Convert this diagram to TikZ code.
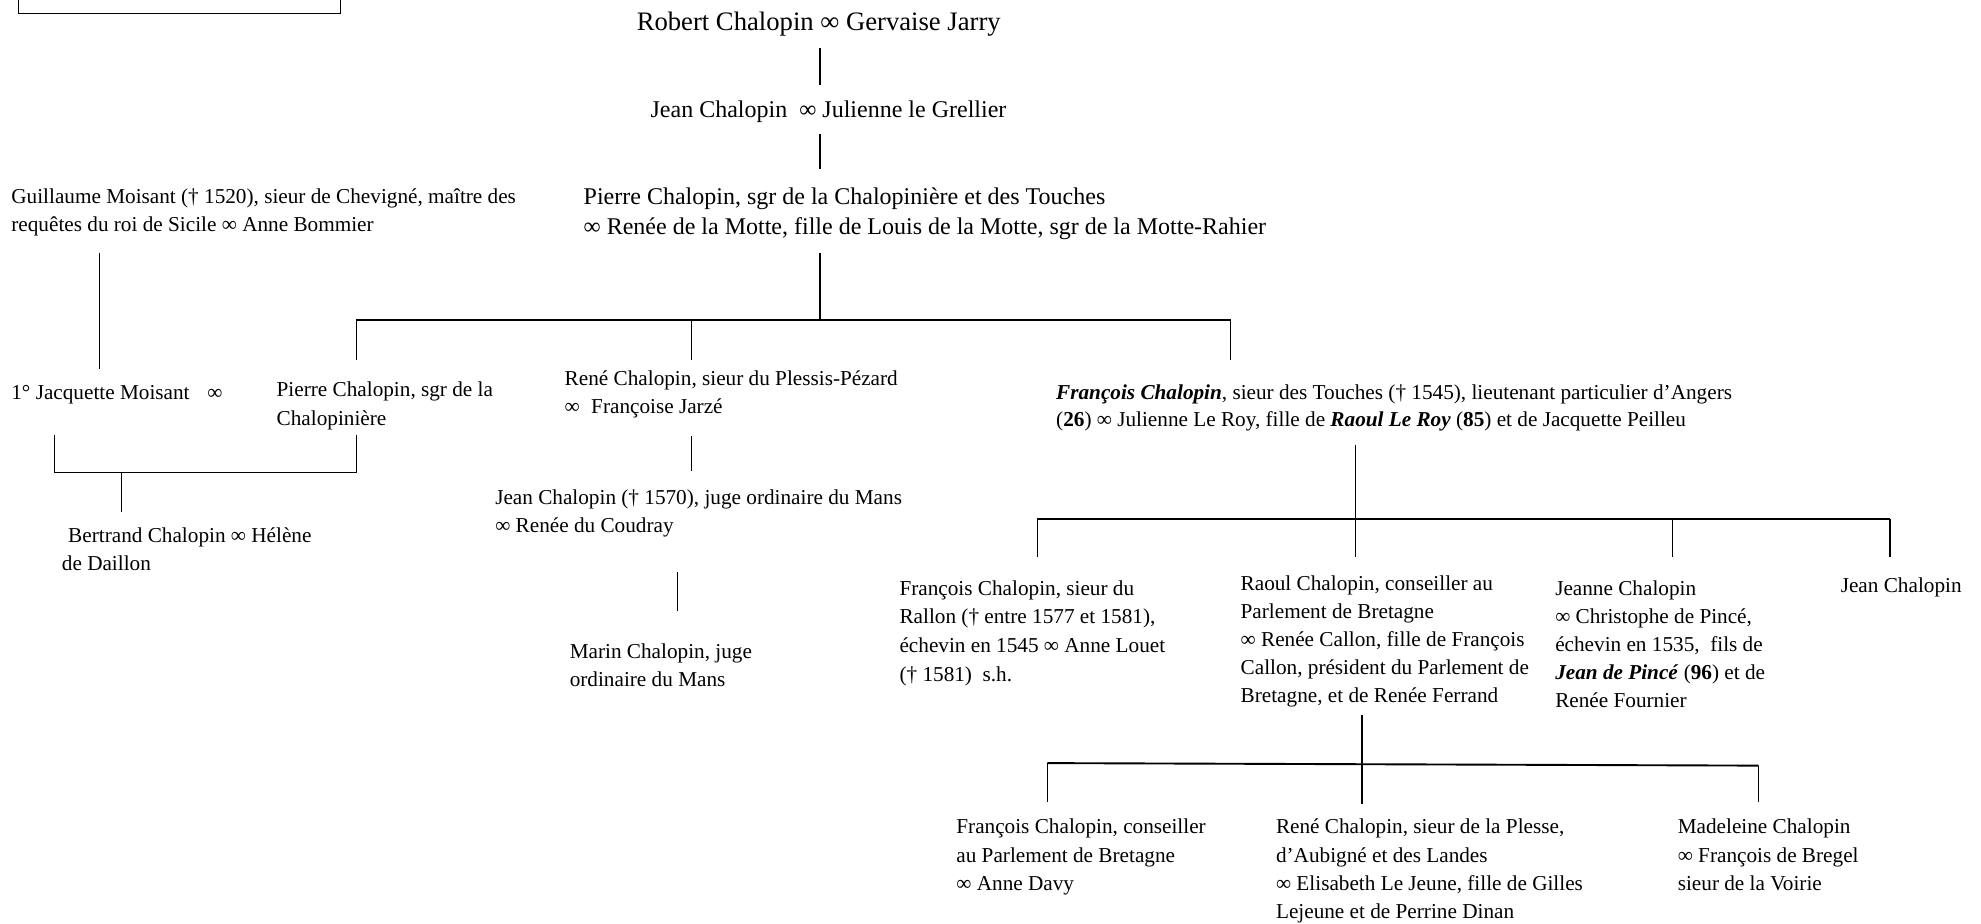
\documentclass[tikz,border=0pt]{standalone}
\usepackage{fontspec}
\setmainfont{Liberation Serif}
\newcommand{\ml}[1]{\begin{tabular}[t]{@{}l@{}}#1\end{tabular}}
\newcommand{\bi}[1]{\textbf{\textit{#1}}}
\begin{document}
\begin{tikzpicture}[x=1pt,y=-1pt,
  txt/.style={anchor=base west, inner sep=0pt, outer sep=0pt, font=\fontsize{16.8}{22.4}\selectfont},
  big/.style={txt, font=\fontsize{19}{24}\selectfont},
  vline/.style={line width=0.9pt},
  hline/.style={line width=1.5pt},
  boxline/.style={line width=1.2pt}]
\clip (0,0) rectangle (1568,731);
\fill[white] (0,0) rectangle (1568,731);

% partially visible box at the top left
\draw[boxline] (14.5,-20) rectangle (269.5,10.5);

% nodes
\node[txt, font=\fontsize{21.1}{25}\selectfont] (robert) at (504,24) {Robert Chalopin ∞ Gervaise Jarry};
\node[big] (jeanA) at (515,93) {Jean Chalopin~ ∞ Julienne le Grellier};
\node[big] (pierreA) at (462,162) {\ml{Pierre Chalopin, sgr de la Chalopinière et des Touches\\
  ∞ Renée de la Motte, fille de Louis de la Motte, sgr de la Motte-Rahier}};
\node[txt] (guill) at (9,161) {\ml{Guillaume Moisant († 1520), sieur de Chevigné, maître des\\
  requêtes du roi de Sicile ∞ Anne Bommier}};
\node[txt] (jacq) at (9,316) {1° Jacquette Moisant\hspace{14pt}∞};
\node[txt] (pierreB) at (219,314) {\ml{Pierre Chalopin, sgr de la\\ Chalopinière}};
\node[txt] (bertrand) at (49,429) {\ml{\hspace{5pt}Bertrand Chalopin ∞ Hélène\\ de Daillon}};
\node[txt] (rene) at (447,305) {\ml{René Chalopin, sieur du Plessis-Pézard\\ ∞\hspace{9pt}Françoise Jarzé}};
\node[txt] (jeanB) at (392,399) {\ml{Jean Chalopin († 1570), juge ordinaire du Mans\\ ∞ Renée du Coudray}};
\node[txt] (marin) at (451,521) {\ml{Marin Chalopin, juge\\ ordinaire du Mans}};
\node[txt, font=\fontsize{16.8}{21.2}\selectfont] (francois) at (836,316) {\ml{\bi{François Chalopin}, sieur des Touches († 1545), lieutenant particulier d’Angers\\
  (\textbf{26}) ∞ Julienne Le Roy, fille de \bi{Raoul Le Roy} (\textbf{85}) et de Jacquette Peilleu}};
\node[txt, font=\fontsize{16.8}{22.7}\selectfont] (rallon) at (712,471) {\ml{François Chalopin, sieur du\\ Rallon († entre 1577 et 1581),\\ échevin en 1545 ∞ Anne Louet\\ († 1581)~ s.h.}};
\node[txt, font=\fontsize{16.8}{22.3}\selectfont] (raoul) at (982,467) {\ml{Raoul Chalopin, conseiller au\\ Parlement de Bretagne\\ ∞ Renée Callon, fille de François\\ Callon, président du Parlement de\\ Bretagne, et de Renée Ferrand}};
\node[txt, font=\fontsize{16.8}{22.3}\selectfont] (jeanne) at (1231,471) {\ml{Jeanne Chalopin\\ ∞ Christophe de Pincé,\\ échevin en 1535,~ fils de\\ \bi{Jean de Pincé} (\textbf{96}) et de\\ Renée Fournier}};
\node[txt] (jeanC) at (1457,469) {Jean Chalopin};
\node[txt, font=\fontsize{16.8}{22.5}\selectfont] (fconseil) at (757,660) {\ml{François Chalopin, conseiller\\ au Parlement de Bretagne\\ ∞ Anne Davy}};
\node[txt, font=\fontsize{16.8}{22.4}\selectfont] (reneP) at (1010,660) {\ml{René Chalopin, sieur de la Plesse,\\ d’Aubigné et des Landes\\ ∞ Elisabeth Le Jeune, fille de Gilles\\ Lejeune et de Perrine Dinan}};
\node[txt, font=\fontsize{16.8}{22.5}\selectfont] (madeleine) at (1328,660) {\ml{Madeleine Chalopin\\ ∞ François de Bregel\\ sieur de la Voirie}};

% connector end points
\coordinate (r1) at (649,38);   \coordinate (r2) at (649,67);
\coordinate (j1) at (649,106);  \coordinate (j2) at (649,134);
\coordinate (p1) at (649,200);  \coordinate (p2) at (649,253);
\coordinate (hA1) at (282,253); \coordinate (hA2) at (974,253);
\coordinate (dA1) at (282,285); \coordinate (dA2) at (547,253); \coordinate (dA3) at (547,285);
\coordinate (dA4) at (974,285);
\coordinate (g1) at (79,200);   \coordinate (g2) at (79,292);
\coordinate (m1) at (43,344);   \coordinate (m2) at (43,374);
\coordinate (m3) at (282,344);  \coordinate (m4) at (282,374);
\coordinate (b1) at (96,374);   \coordinate (b2) at (96,405);
\coordinate (e1) at (547,345);  \coordinate (e2) at (547,373);
\coordinate (n1) at (536,453);  \coordinate (n2) at (536,484);
\coordinate (f1) at (1073,352); \coordinate (f2) at (1073,411);
\coordinate (hB1) at (821,411); \coordinate (hB2) at (1496,411);
\coordinate (dB1) at (821,441); \coordinate (dB2) at (1073,441);
\coordinate (dB3) at (1324,411); \coordinate (dB4) at (1324,441);
\coordinate (dB5) at (1496,441);
\coordinate (o1) at (1078,566); \coordinate (o2) at (1078,636);
\coordinate (hC1) at (829,604); \coordinate (hC2) at (1392,606);
\coordinate (dC1) at (829,635); \coordinate (dC2) at (1392,635);

% connectors
\draw[vline] (r1) -- (r2);
\draw[vline] (j1) -- (j2);
\draw[vline] (p1) -- (p2);
\draw[hline] (hA1) -- (hA2);
\draw[vline] (hA1) -- (dA1);
\draw[vline] (dA2) -- (dA3);
\draw[vline] (hA2) -- (dA4);
\draw[vline] (g1) -- (g2);
\draw[vline] (m1) -- (m2);
\draw[vline] (m3) -- (m4);
\draw[hline] (m2) -- (m4);
\draw[vline] (b1) -- (b2);
\draw[vline] (e1) -- (e2);
\draw[vline] (n1) -- (n2);
\draw[vline] (f1) -- (f2);
\draw[hline] (hB1) -- (hB2);
\draw[vline] (hB1) -- (dB1);
\draw[vline] (f2) -- (dB2);
\draw[vline] (dB3) -- (dB4);
\draw[vline] (hB2) -- (dB5);
\draw[vline] (o1) -- (o2);
\draw[hline] (hC1) -- (hC2);
\draw[vline] (hC1) -- (dC1);
\draw[vline] (hC2) -- (dC2);
\end{tikzpicture}
\end{document}
